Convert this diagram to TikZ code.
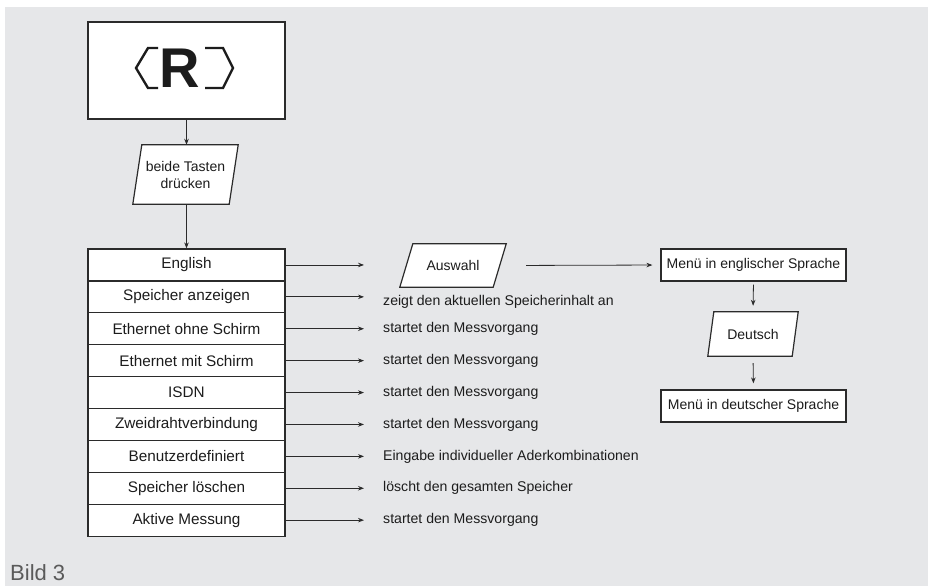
\documentclass[tikz,border=0pt]{standalone}
\usepackage{fontspec}
\setmainfont{Liberation Sans}
\usetikzlibrary{arrows.meta,backgrounds}

\definecolor{bggray}{HTML}{E6E7E9}
\definecolor{linegray}{HTML}{2B2B2B}
\definecolor{textgray}{HTML}{1C1C1C}
\definecolor{captiongray}{HTML}{5A5A5A}

% parallelogram behind a node: name, slant
\newcommand{\parabox}[2]{%
  \begin{scope}[on background layer]
    \filldraw[boxline, fill=white] (#1.south west) -- ([xshift=#2]#1.north west)
      -- (#1.north east) -- ([xshift=-#2]#1.south east) -- cycle;
  \end{scope}}

\begin{document}
\begin{tikzpicture}[x=1pt, y=-1pt,
  boxline/.style={draw=linegray, line width=1.2pt},
  rowbox/.style={boxline, fill=white, minimum width=197pt, minimum height=31.9pt,
    inner sep=0pt, text=textgray, font=\fontsize{15.3}{18}\selectfont},
  menubox/.style={boxline, fill=white, minimum width=185pt, minimum height=32pt,
    inner sep=0pt, text=textgray, font=\fontsize{14}{17}\selectfont},
  paratext/.style={inner sep=0pt, text=textgray, align=center, font=\fontsize{14}{17}\selectfont},
  result/.style={anchor=west, inner sep=0pt, text=textgray, font=\fontsize{14.1}{17}\selectfont},
  arr/.style={draw=linegray, line width=0.8pt, -{Stealth[length=6pt, width=4.5pt]}}]

  % background and page size
  \useasboundingbox (0,0) rectangle (928,587);
  \begin{scope}[on background layer]
    \fill[bggray] (5,7) rectangle (928,586);
  \end{scope}

  % logo box
  \node[boxline, fill=white, minimum width=197pt, minimum height=97pt] (logo) at (186.5,70.5) {};
  \node[inner sep=0pt, text=textgray, font=\fontsize{56}{60}\selectfont\bfseries] (rlogo) at (180,68) {R};
  \draw[draw=textgray, line width=2.4pt] (158,48) -- (148,48) -- (136,68) -- (148,88) -- (158,88);
  \draw[draw=textgray, line width=2.4pt] (205,48) -- (223,48) -- (233,68) -- (223,88) -- (205,88);

  % both keys
  \node[paratext, minimum width=105pt, minimum height=59pt] (keys) at (185.5,174.5) {beide Tasten\\drücken};
  \parabox{keys}{9pt}

  % menu list
  \foreach \i/\lbl in {1/English, 2/Speicher anzeigen, 3/Ethernet ohne Schirm,
      4/Ethernet mit Schirm, 5/ISDN, 6/Zweidrahtverbindung, 7/Benutzerdefiniert,
      8/Speicher löschen, 9/Aktive Messung} {
    \pgfmathsetmacro{\yy}{249+31.9*(\i-0.5)}
    \node[rowbox] (r\i) at (186.5,\yy) {\lbl};
    \coordinate (e\i) at (364,\yy);
    \draw[arr] (r\i.east) -- (e\i);
  }

  % what each entry does
  \node[result] (t2) at (383,302) {zeigt den aktuellen Speicherinhalt an};
  \foreach \i/\txt in {3/startet den Messvorgang, 4/startet den Messvorgang,
      5/startet den Messvorgang, 6/startet den Messvorgang,
      7/Eingabe individueller Aderkombinationen, 8/löscht den gesamten Speicher,
      9/startet den Messvorgang} {
    \pgfmathsetmacro{\yy}{249+31.9*(\i-0.5)}
    \node[result] (t\i) at (383,\yy) {\txt};
  }

  % language branch
  \node[paratext, minimum width=106pt, minimum height=43pt] (aus) at (453,265.5) {Auswahl};
  \parabox{aus}{13pt}
  \node[menubox] (me) at (753.5,265) {Menü in englischer Sprache};
  \node[paratext, minimum width=90pt, minimum height=44pt] (de) at (753,334) {Deutsch};
  \parabox{de}{6pt}
  \node[menubox] (md) at (753.5,406) {Menü in deutscher Sprache};

  % connectors
  \draw[arr] (logo.south) -- (logo.south |- keys.north);
  \draw[arr] (logo.south |- keys.south) -- (logo.south |- r1.north);
  \draw[arr, shorten <=20pt, shorten >=8pt] (aus.east) -- (me.west);
  \draw[arr, shorten <=3pt, shorten >=6pt] (me.south) -- (de.north);
  \draw[arr, shorten <=7pt, shorten >=6pt] (de.south) -- (md.north);

  % caption
  \node[anchor=west, inner sep=0pt, text=captiongray, font=\fontsize{22}{26}\selectfont] (caption) at (10,573) {Bild 3};
\end{tikzpicture}
\end{document}
